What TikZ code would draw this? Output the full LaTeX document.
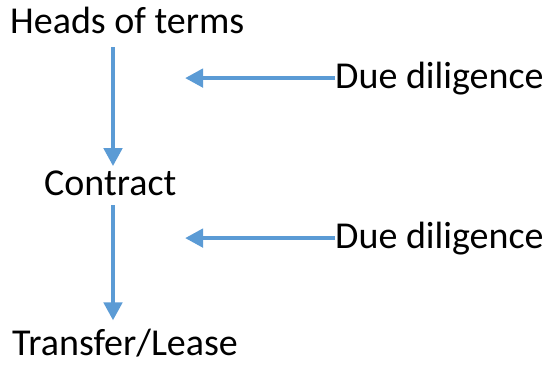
\documentclass[tikz,border=0pt]{standalone}
\usepackage{fontspec}
\setmainfont{Carlito}
\usetikzlibrary{arrows.meta, positioning, calc}
\definecolor{cblue}{HTML}{5B9BD5}
\tikzset{
  every picture/.style={x=1pt, y=-1pt},
  term/.style={inner sep=0pt, anchor=base west, font=\fontsize{38}{44}\selectfont},
  arrow/.style={-{Triangle[length=18pt, width=18pt]}, draw=cblue, line width=4.5pt},
}
\begin{document}
\begin{tikzpicture}
  \useasboundingbox (0,0) rectangle (545,365);
  \coordinate (spine) at (113,0);
  \coordinate (tipcol) at (185,0);
  \node[term] (heads)    at (10,33)  {Heads of terms};
  \node[term] (contract) at (44,195) {Contract};
  \node[term] (transfer) at (12,355) {Transfer/Lease};
  \node[term] (dd1)      at (335,88)  {Due diligence};
  \node[term] (dd2)      at (335,248) {Due diligence};
  \draw[arrow, shorten <=14pt, shorten >=4pt] (heads.south -| spine) -- (contract.north -| spine);
  \draw[arrow, shorten <=10pt, shorten >=8pt] (contract.south -| spine) -- (transfer.north -| spine);
  \foreach \d in {dd1,dd2} \draw[arrow] (\d.west) -- (\d.west -| tipcol);
\end{tikzpicture}
\end{document}
